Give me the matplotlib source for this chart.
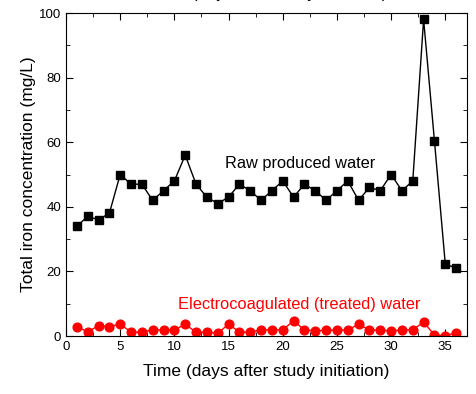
import matplotlib.pyplot as plt
from matplotlib.ticker import MultipleLocator

plt.rcParams['font.family'] = ['Liberation Sans', 'DejaVu Sans']

days = list(range(1, 37))
raw = [34, 37, 36, 38, 50, 47, 47, 42, 45, 48, 56, 47, 43, 41, 43, 47, 45, 42,
       45, 48, 43, 47, 45, 42, 45, 48, 42, 46, 45, 50, 45, 48, 98, 60.4, 22.3, 21]
treated = [2.9, 1.3, 3.2, 2.9, 3.7, 1.2, 1.2, 1.9, 1.9, 1.9, 3.6, 1.2, 1.2, 0.8, 3.7, 1.2, 1.2, 1.9,
           1.9, 1.9, 4.7, 1.9, 1.6, 1.8, 1.8, 1.9, 3.6, 1.9, 1.8, 1.6, 1.9, 1.9, 4.3, 0.3, 0.1, 1.0]

fig = plt.figure(figsize=(4.76, 3.94), dpi=100)
ax = fig.add_axes([0.1387, 0.1472, 0.8423, 0.8198])

ax.plot(days, raw, color="black", marker="s", markersize=5.6, linewidth=1)
ax.plot(days, treated, color="red", marker="o", markersize=6.3, linewidth=1)

ax.text(21.6, 53.5, "Raw produced water", fontsize=11.8, color="black", ha="center", va="center")
ax.text(21.5, 9.6, "Electrocoagulated (treated) water", fontsize=11.8, color="red", ha="center", va="center")

ax.set_xlim(0, 37)
ax.set_ylim(0, 100)
ax.xaxis.set_major_locator(MultipleLocator(5))
ax.xaxis.set_minor_locator(MultipleLocator(2.5))
ax.yaxis.set_major_locator(MultipleLocator(20))
ax.yaxis.set_minor_locator(MultipleLocator(10))
ax.tick_params(which="both", direction="in", top=True, right=True, labelsize=9.5)
ax.tick_params(which="major", length=5)
ax.tick_params(which="minor", length=3)

ax.set_xlabel("Time (days after study initiation)", fontsize=12.5, labelpad=8)
ax.set_ylabel("Total iron concentration (mg/L)", fontsize=12.5, labelpad=2)

# top label cut off by the image edge
fig.text(0.565, 1.006, "Time (days after study initiation)", fontsize=12,
         ha="center", va="baseline")

fig.savefig("out.png", dpi=100)
